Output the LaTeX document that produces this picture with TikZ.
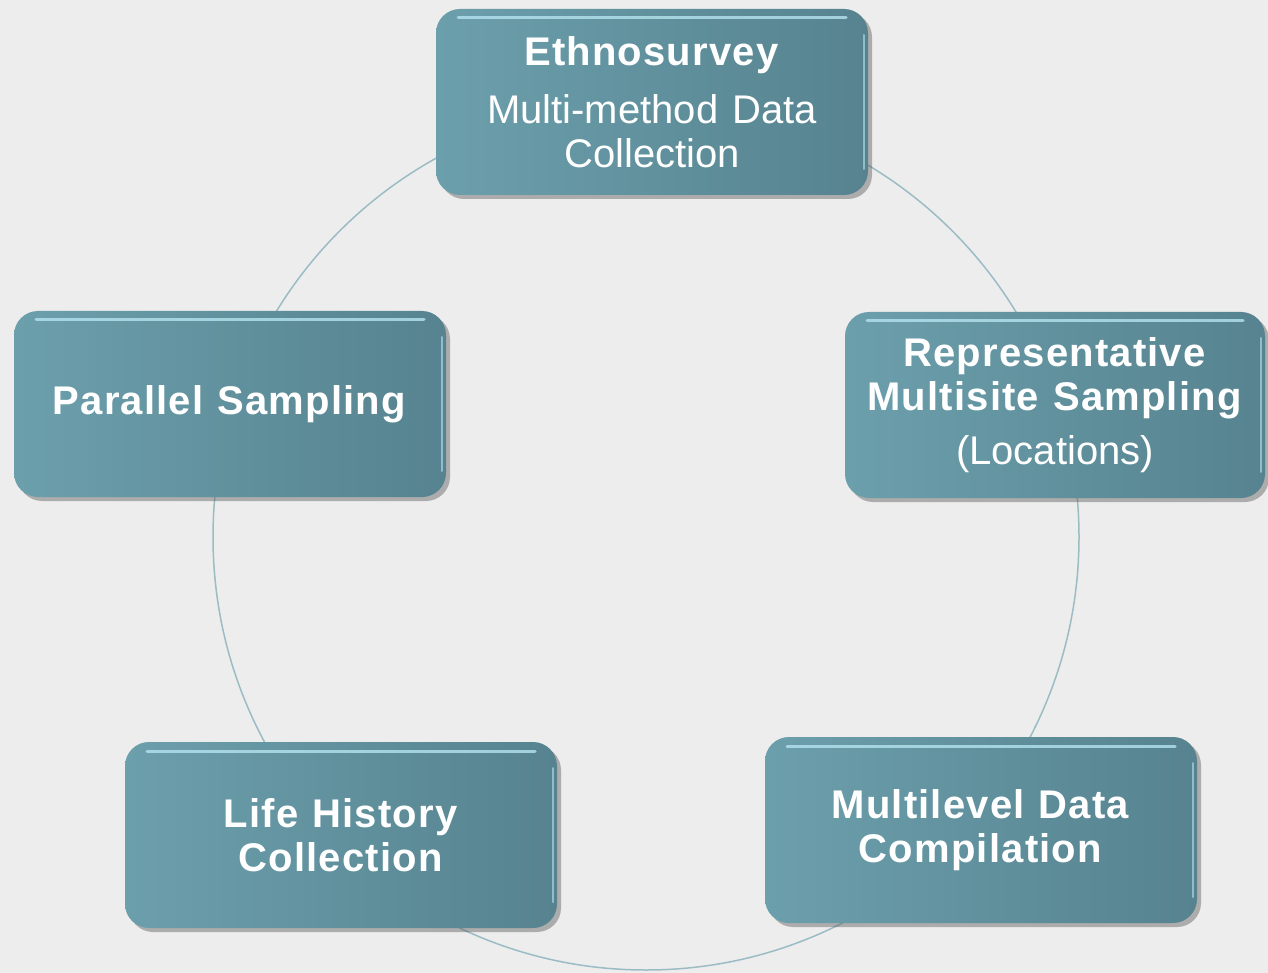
\documentclass[tikz,border=0pt]{standalone}
\usepackage{fontspec}
\setmainfont{Liberation Sans}[BoldFeatures={LetterSpace=3}]

\definecolor{boxlight}{HTML}{6C9FAC}
\definecolor{boxdark}{HTML}{56838F}
\definecolor{ringline}{HTML}{9BBCC5}
\definecolor{paper}{HTML}{EDEDED}
\definecolor{gloss}{HTML}{B5E4EF}

\tikzset{
  stage/.style={rectangle, rounded corners=24pt, minimum width=432pt, minimum height=186pt,
    left color=boxlight, right color=boxdark, text=white, align=center,
    font={\fontsize{40}{44}\selectfont\spaceskip=14pt\relax},
    preaction={fill=black!70, fill opacity=0.4, transform canvas={shift={(4pt,-4pt)}}},
    path picture={
      \draw[gloss, line width=3pt, line cap=round, opacity=0.8]
        ([xshift=22pt,yshift=-9pt]path picture bounding box.north west) -- ([xshift=-22pt,yshift=-9pt]path picture bounding box.north east);
      \draw[gloss, line width=2pt, line cap=round, opacity=0.6]
        ([xshift=-4pt,yshift=-26pt]path picture bounding box.north east) -- ([xshift=-4pt,yshift=26pt]path picture bounding box.south east);
    }},
}

\begin{document}
\begin{tikzpicture}[x=1pt, y=-1pt]
    \fill[paper] (0,0) rectangle (1268,973);
    \useasboundingbox (0,0) rectangle (1268,973);
    \node[circle, draw=ringline, line width=1.5pt, minimum size=866pt, inner sep=0pt] (ring) at (646,537) {};
    \node[stage] (ethno) at (652,102) {\textbf{Ethnosurvey}\\[14pt]Multi-method Data\\Collection};
    \node[stage] (parallel) at (230,404) {\textbf{Parallel Sampling}};
    \node[stage, minimum width=420pt] (multisite) at (1055,405) {\textbf{Representative}\\\textbf{Multisite Sampling}\\[10pt](Locations)};
    \node[stage] (lifehist) at (341,835) {\textbf{Life History}\\\textbf{Collection}};
    \node[stage] (multilevel) at (981,830) {\textbf{Multilevel Data}\\\textbf{Compilation}};
\end{tikzpicture}
\end{document}
